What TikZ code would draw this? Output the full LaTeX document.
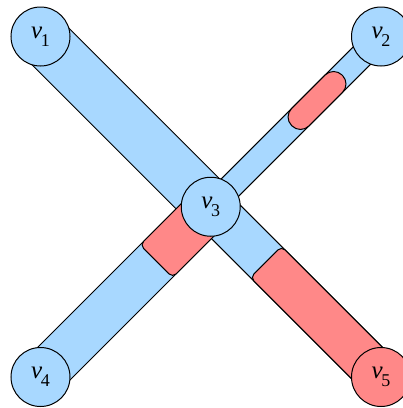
\documentclass[tikz,border=0pt]{standalone}
\usepackage{fontspec}
\setmainfont{Liberation Serif}
\usetikzlibrary{calc}
\definecolor{bandblue}{RGB}{168,216,255}
\definecolor{bandred}{RGB}{255,136,136}
\newcommand{\mybar}[4]{%
  \draw[#1] ($(#2)!#4!90:(#3)$) -- ($(#3)!#4!-90:(#2)$) -- ($(#3)!#4!90:(#2)$) -- ($(#2)!#4!-90:(#3)$) -- cycle;}
\newcommand{\lab}[1]{\fontsize{25}{25}\selectfont\itshape v\kern-1.5pt\raisebox{-8pt}{\upshape\fontsize{18}{18}\selectfont #1}}
\begin{document}
\begin{tikzpicture}[x=1pt,y=-1pt,
  bluebar/.style={draw=black,line width=1pt,fill=bandblue},
  redbar/.style={draw=black,line width=1pt,fill=bandred,rounded corners=5pt},
  capsule/.style={draw=black,line width=1pt,fill=bandred,rounded corners=12pt},
  vert/.style={circle,draw=black,line width=1pt,minimum size=59pt,inner sep=0pt}]
\useasboundingbox (0,0) rectangle (403,408);
\coordinate (c1) at (40.5,36.5);
\coordinate (c2) at (381,36.5);
\coordinate (c3) at (210.75,206.75);
\coordinate (c4) at (40.5,377);
\coordinate (c5) at (381,377);
% blue bands
\mybar{bluebar}{c1}{c3}{26pt}
\mybar{bluebar}{c3}{c5}{22pt}
\mybar{bluebar}{c3}{c2}{12.3pt}
\mybar{bluebar}{c3}{c4}{23pt}
% red pieces
\coordinate (ra) at ($(c3)!114.6pt!(c2)$);
\coordinate (rb) at ($(c3)!186pt!(c2)$);
\coordinate (rc) at ($(c3)!77pt!(c4)$);
\coordinate (rd) at ($(c3)!78pt!(c5)$);
\mybar{capsule}{ra}{rb}{12.3pt}
\mybar{redbar}{c3}{rc}{23pt}
\mybar{redbar}{rd}{c5}{22pt}
% vertices
\node[vert,fill=bandblue] (v1) at (c1) {\lab{1}};
\node[vert,fill=bandblue] (v2) at (c2) {\lab{2}};
\node[vert,fill=bandblue] (v3) at (c3) {\lab{3}};
\node[vert,fill=bandblue] (v4) at (c4) {\lab{4}};
\node[vert,fill=bandred] (v5) at (c5) {\lab{5}};
\end{tikzpicture}
\end{document}
